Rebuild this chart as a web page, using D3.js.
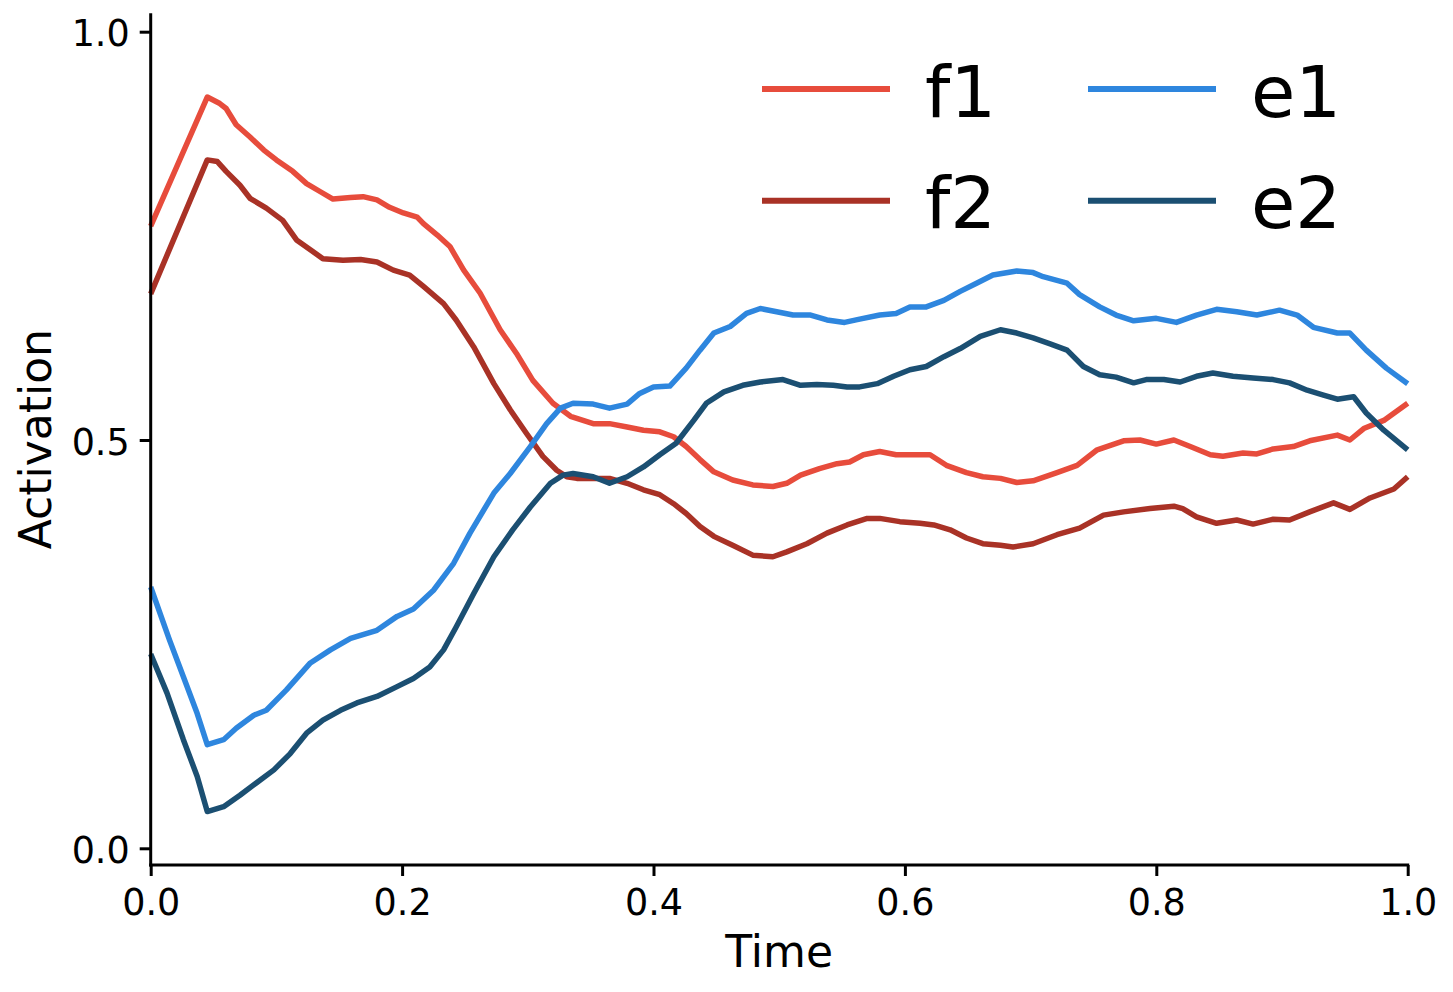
<!DOCTYPE html>
<html>
<head>
<meta charset="utf-8">
<script src="https://cdn.jsdelivr.net/npm/d3@7"></script>
<style>
  html, body { margin: 0; padding: 0; background: #fff; }
  svg { display: block; font-family: "DejaVu Sans", sans-serif; }
</style>
</head>
<body>
<svg id="chart" width="1453" height="992"></svg>
<script>
// ---- Data ----
const seriesNames = ["f1", "f2", "e1", "e2"];
const seriesColors = ["#E74C3C", "#A93226", "#2E86DE", "#1B4F72"];

const xTicks = [0, 0.2, 0.4, 0.6, 0.8, 1.0];
const yTicks = [0, 0.5, 1.0];

const f1Time = [0,0.045,0.055,0.060,0.068,0.079,0.090,0.100,0.113,0.124,0.135,0.145,0.159,0.169,0.180,0.190,0.201,0.212,0.217,0.228,0.238,0.249,0.262,0.278,0.291,0.304,0.320,0.334,0.352,0.365,0.379,0.392,0.405,0.416,0.426,0.437,0.448,0.463,0.479,0.495,0.506,0.517,0.532,0.546,0.556,0.567,0.580,0.593,0.607,0.620,0.633,0.649,0.662,0.676,0.689,0.702,0.721,0.737,0.753,0.774,0.787,0.800,0.814,0.827,0.843,0.853,0.869,0.880,0.893,0.909,0.922,0.944,0.954,0.965,0.981,1.0];
const f1Values = [0.762,0.920,0.912,0.906,0.886,0.871,0.855,0.843,0.829,0.814,0.804,0.795,0.797,0.798,0.794,0.785,0.778,0.773,0.765,0.751,0.737,0.708,0.680,0.635,0.606,0.573,0.545,0.529,0.520,0.520,0.516,0.512,0.510,0.504,0.492,0.476,0.461,0.451,0.445,0.443,0.447,0.457,0.465,0.471,0.473,0.482,0.486,0.482,0.482,0.482,0.469,0.460,0.455,0.453,0.448,0.450,0.460,0.469,0.488,0.499,0.500,0.495,0.500,0.492,0.482,0.480,0.484,0.483,0.489,0.492,0.499,0.506,0.500,0.514,0.524,0.545];

const f2Time = [0,0.045,0.053,0.060,0.071,0.079,0.092,0.105,0.116,0.127,0.137,0.153,0.167,0.180,0.193,0.206,0.217,0.233,0.243,0.257,0.273,0.286,0.299,0.312,0.323,0.331,0.339,0.365,0.379,0.392,0.405,0.416,0.426,0.437,0.448,0.463,0.479,0.495,0.506,0.522,0.538,0.554,0.570,0.580,0.596,0.612,0.623,0.636,0.649,0.662,0.676,0.686,0.702,0.721,0.739,0.758,0.774,0.795,0.814,0.821,0.832,0.848,0.864,0.877,0.893,0.906,0.922,0.941,0.954,0.970,0.989,1.0];
const f2Values = [0.679,0.843,0.841,0.829,0.812,0.796,0.784,0.769,0.745,0.733,0.722,0.720,0.721,0.718,0.708,0.702,0.688,0.667,0.647,0.614,0.569,0.537,0.508,0.480,0.463,0.455,0.453,0.453,0.447,0.439,0.433,0.422,0.410,0.394,0.382,0.371,0.359,0.357,0.363,0.373,0.386,0.396,0.404,0.404,0.400,0.398,0.396,0.390,0.380,0.373,0.371,0.369,0.373,0.384,0.392,0.408,0.412,0.416,0.419,0.416,0.406,0.398,0.402,0.397,0.403,0.402,0.412,0.423,0.415,0.429,0.440,0.455];

const e1Time = [0,0.015,0.026,0.037,0.045,0.058,0.068,0.082,0.092,0.108,0.127,0.143,0.159,0.180,0.196,0.209,0.225,0.241,0.254,0.273,0.286,0.302,0.315,0.326,0.336,0.352,0.365,0.379,0.389,0.400,0.413,0.426,0.437,0.448,0.461,0.474,0.485,0.498,0.511,0.525,0.538,0.552,0.564,0.580,0.593,0.604,0.617,0.631,0.644,0.657,0.670,0.689,0.702,0.710,0.729,0.739,0.755,0.768,0.782,0.800,0.816,0.832,0.848,0.864,0.880,0.898,0.912,0.925,0.944,0.954,0.967,0.983,1.0];
const e1Values = [0.320,0.255,0.210,0.165,0.127,0.133,0.147,0.163,0.169,0.194,0.227,0.243,0.257,0.267,0.284,0.293,0.316,0.349,0.386,0.435,0.459,0.492,0.520,0.539,0.545,0.544,0.539,0.544,0.557,0.565,0.566,0.588,0.610,0.631,0.639,0.655,0.661,0.657,0.653,0.653,0.647,0.644,0.648,0.653,0.655,0.663,0.663,0.671,0.682,0.692,0.702,0.707,0.705,0.700,0.692,0.678,0.663,0.653,0.646,0.649,0.644,0.653,0.660,0.657,0.653,0.659,0.653,0.638,0.631,0.631,0.610,0.588,0.569];

const e2Time = [0,0.013,0.026,0.037,0.045,0.058,0.071,0.084,0.098,0.111,0.124,0.137,0.151,0.164,0.180,0.196,0.209,0.222,0.233,0.243,0.257,0.273,0.288,0.302,0.318,0.328,0.336,0.352,0.365,0.379,0.392,0.405,0.418,0.432,0.442,0.456,0.471,0.485,0.503,0.517,0.530,0.543,0.554,0.564,0.578,0.591,0.604,0.617,0.631,0.644,0.660,0.676,0.689,0.702,0.715,0.729,0.742,0.755,0.768,0.782,0.792,0.806,0.819,0.832,0.845,0.861,0.877,0.893,0.906,0.920,0.933,0.944,0.957,0.967,0.981,1.0];
const e2Values = [0.238,0.190,0.133,0.088,0.045,0.051,0.065,0.080,0.096,0.116,0.141,0.157,0.169,0.178,0.186,0.198,0.208,0.222,0.243,0.271,0.312,0.357,0.390,0.418,0.447,0.457,0.459,0.455,0.447,0.455,0.467,0.482,0.496,0.524,0.545,0.559,0.567,0.571,0.574,0.567,0.568,0.567,0.565,0.565,0.569,0.578,0.586,0.590,0.602,0.612,0.627,0.635,0.631,0.625,0.618,0.610,0.590,0.580,0.577,0.570,0.574,0.574,0.571,0.578,0.582,0.578,0.576,0.574,0.570,0.561,0.555,0.550,0.553,0.533,0.512,0.488];

const seriesTimes = [f1Time, f2Time, e1Time, e2Time];
const seriesValues = [f1Values, f2Values, e1Values, e2Values];

// ---- Layout ----
const svg = d3.select("#chart");
const x = d3.scaleLinear().domain([0, 1]).range([150.7, 1407.7]);
const y = d3.scaleLinear().domain([0, 1]).range([848.3, 31.7]);
const yMin = y.invert(865), yMax = y.invert(13.3);

const tickFont = 36.5, labelFont = 44, legendFont = 72;

// lines
const line = d3.line().x(d => x(d[0])).y(d => y(d[1]));
seriesNames.forEach((name, i) => {
  const pts = seriesTimes[i].map((t, j) => [t, seriesValues[i][j]]);
  svg.append("path")
    .attr("d", line(pts))
    .attr("fill", "none")
    .attr("stroke", seriesColors[i])
    .attr("stroke-width", 5.5)
    .attr("stroke-linejoin", "round")
    .attr("stroke-linecap", "butt");
});

// axes
const xAxis = d3.axisBottom(x).tickValues(xTicks).tickFormat(d3.format(".1f")).tickSize(11).tickPadding(9);
const gx = svg.append("g").attr("transform", `translate(0,${y(yMin)})`).call(xAxis);
const yAxis = d3.axisLeft(y).tickValues(yTicks).tickFormat(d3.format(".1f")).tickSize(11).tickPadding(10);
const gy = svg.append("g").attr("transform", `translate(${x(0)},0)`).call(yAxis);

[gx, gy].forEach(g => {
  g.select(".domain").remove();
  g.selectAll(".tick line").attr("stroke", "#000").attr("stroke-width", 3);
  g.selectAll(".tick text").attr("fill", "#000").style("font-size", tickFont + "px")
    .style("font-family", "DejaVu Sans");
});
gx.selectAll(".tick text").attr("dy", "0.82em");
gy.selectAll(".tick text").attr("dy", "0.39em");

// spines
svg.append("line").attr("x1", x(0)).attr("x2", x(0)).attr("y1", y(yMax)).attr("y2", y(yMin) + 1.5)
  .attr("stroke", "#000").attr("stroke-width", 3);
svg.append("line").attr("x1", x(0) - 1.5).attr("x2", x(1) + 1.5).attr("y1", y(yMin)).attr("y2", y(yMin))
  .attr("stroke", "#000").attr("stroke-width", 3);

// axis labels
svg.append("text").attr("x", (x(0) + x(1)) / 2).attr("y", 967)
  .attr("text-anchor", "middle").style("font-size", labelFont + "px").text("Time");
svg.append("text").attr("transform", `translate(51,${(y(yMin) + y(yMax)) / 2}) rotate(-90)`)
  .attr("text-anchor", "middle").style("font-size", labelFont + "px").text("Activation");

// legend (2 columns)
const legendCols = [[0, 1], [2, 3]];
const colLineX = [762, 1088];
const rowY = [89, 200.7];
legendCols.forEach((col, c) => {
  col.forEach((si, r) => {
    svg.append("line")
      .attr("x1", colLineX[c]).attr("x2", colLineX[c] + 128)
      .attr("y1", rowY[r]).attr("y2", rowY[r])
      .attr("stroke", seriesColors[si]).attr("stroke-width", 6);
    svg.append("text")
      .attr("x", colLineX[c] + 163).attr("y", rowY[r] + 27.7)
      .style("font-size", legendFont + "px").text(seriesNames[si]);
  });
});
</script>
</body>
</html>
